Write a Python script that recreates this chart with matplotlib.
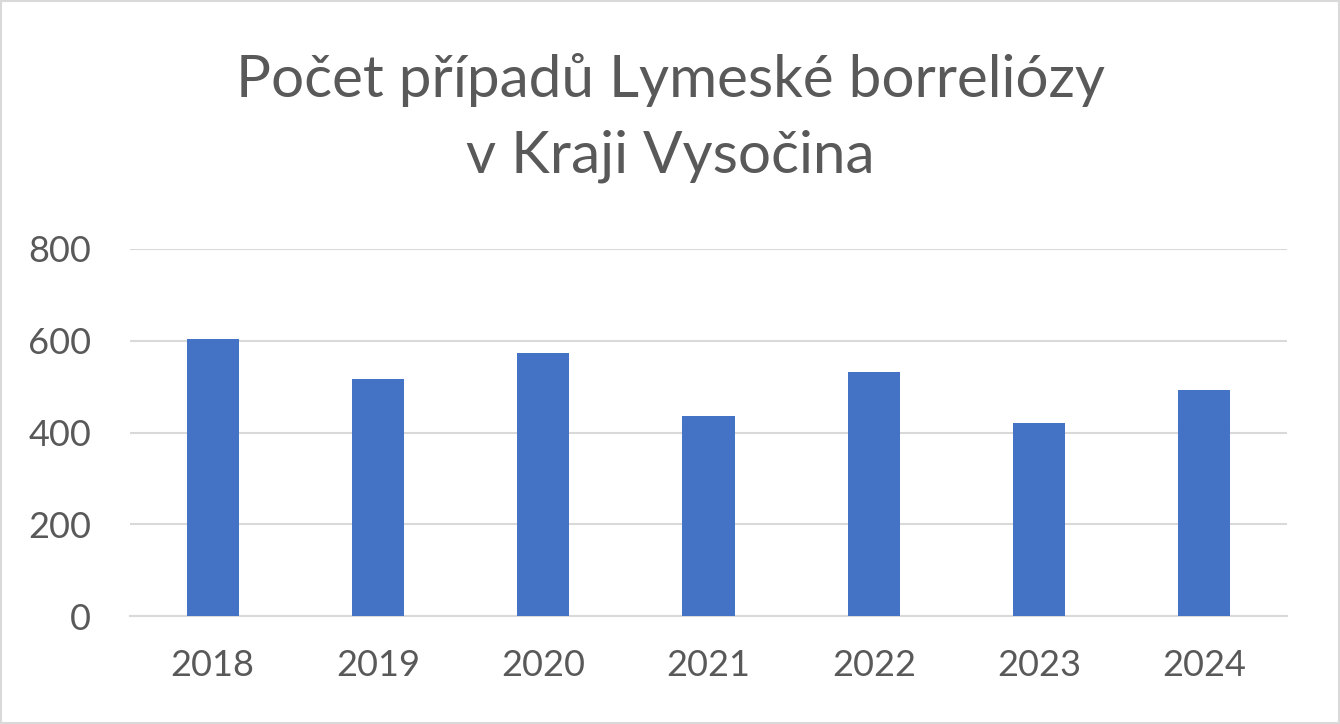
import matplotlib.pyplot as plt
import numpy as np

years = ['2018', '2019', '2020', '2021', '2022', '2023', '2024']
cases = [604, 516, 573, 437, 531, 421, 492]
yticks = [0, 200, 400, 600, 800]

plt.rcParams['font.family'] = ['Lato', 'DejaVu Sans']

fig = plt.figure(figsize=(13.4, 7.24), dpi=100)
ax = fig.add_axes([130/1340, 1 - 616/724, 1157/1340, 367/724])

x = np.arange(len(years))
ax.bar(x, cases, width=0.315, color='#4472c4', zorder=3)

ax.set_xlim(-0.5, len(years) - 0.5)
ax.set_ylim(0, 800)
ax.set_yticks(yticks)
ax.set_xticks(x)
ax.set_xticklabels(years)
ax.tick_params(axis='both', length=0, labelsize=26, colors='#595959')
ax.tick_params(axis='x', pad=24)
ax.tick_params(axis='y', pad=28)
ax.grid(axis='y', color='#d9d9d9', linewidth=1.5, zorder=0)
for s in ['top', 'right', 'left']:
    ax.spines[s].set_visible(False)
ax.spines['bottom'].set_color('#d9d9d9')
ax.spines['bottom'].set_linewidth(1.5)

fig.text(0.5, 1 - 80/724, 'Počet případů Lymeské borreliózy', ha='center', va='center',
         fontsize=42, color='#595959')
fig.text(0.5, 1 - 156/724, 'v Kraji Vysočina', ha='center', va='center',
         fontsize=42, color='#595959')

# border around the chart
fig.patches.append(plt.Rectangle((0.001, 0.001), 0.998, 0.997, transform=fig.transFigure,
                                 fill=False, edgecolor='#d9d9d9', linewidth=1.5))

fig.savefig('out.png', dpi=100)
